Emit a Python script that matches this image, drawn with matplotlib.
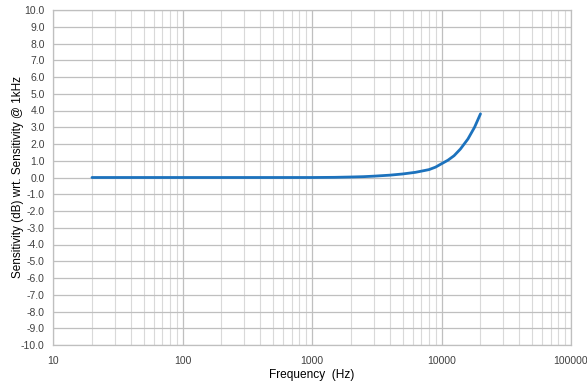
import matplotlib
matplotlib.use("Agg")
import matplotlib.pyplot as plt
from matplotlib.ticker import LogLocator, FixedLocator, FixedFormatter, NullFormatter
import numpy as np

plt.rcParams["font.family"] = ["Liberation Sans", "DejaVu Sans"]

# response data
freq_hz = [20, 50, 100, 200, 500, 1000, 1500, 2000, 2500, 3000, 4000, 5000,
           6300, 8000, 9000, 10000, 11200, 12500, 14000, 16000, 18000, 20000]
sens_db = [0.0, 0.0, 0.0, 0.0, 0.0, 0.0, 0.01, 0.03, 0.05, 0.08, 0.14, 0.21,
           0.31, 0.47, 0.62, 0.82, 1.03, 1.3, 1.7, 2.3, 3.0, 3.8]

x_ticks = [10, 100, 1000, 10000, 100000]
x_labels = ["10", "100", "1000", "10000", "100000"]
y_ticks = list(range(-10, 11))

fig = plt.figure(figsize=(5.87, 3.85), dpi=100)
ax = fig.add_axes([53 / 587, 1 - 345 / 385, (571 - 53) / 587, (345 - 10) / 385])

ax.plot(freq_hz, sens_db, color="#1c72bd", linewidth=2.0, solid_capstyle="round",
        solid_joinstyle="round", zorder=3)

ax.set_xscale("log")
ax.set_xlim(10, 100000)
ax.set_ylim(-10, 10)

ax.xaxis.set_major_locator(FixedLocator(x_ticks))
ax.xaxis.set_major_formatter(FixedFormatter(x_labels))
ax.xaxis.set_minor_locator(LogLocator(base=10, subs=np.arange(2, 10)))
ax.xaxis.set_minor_formatter(NullFormatter())
ax.set_yticks(y_ticks)
ax.set_yticklabels([f"{v:.1f}" for v in y_ticks])

ax.grid(which="major", color="#bfbfbf", linewidth=0.9)
ax.grid(which="minor", axis="x", color="#d9d9d9", linewidth=0.8)
ax.set_axisbelow(True)

ax.tick_params(which="both", length=0, labelsize=7.5, colors="#404040", pad=6)
ax.tick_params(axis="x", pad=8)
for s in ax.spines.values():
    s.set_color("#bfbfbf")
    s.set_linewidth(0.9)

ax.set_xlabel("Frequency  (Hz)", fontsize=8.6, color="black", labelpad=2)
ax.set_ylabel("Sensitivity (dB) wrt. Sensitivity @ 1kHz", fontsize=8.5, color="black", labelpad=-2)

fig.savefig("out.png", dpi=100)
